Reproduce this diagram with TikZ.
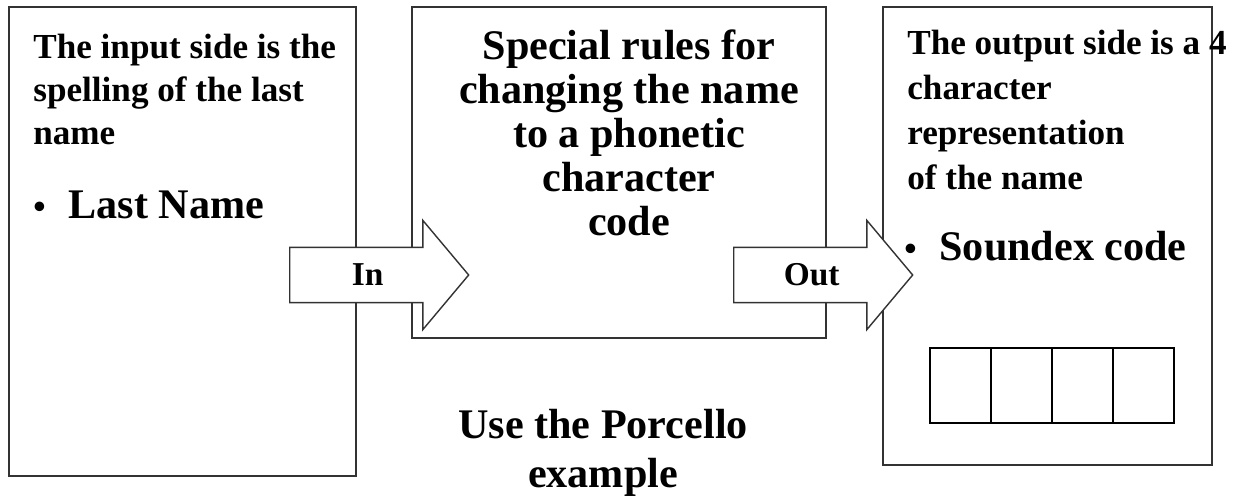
\documentclass[tikz,border=0pt]{standalone}
\usepackage{fontspec}
\setmainfont{Liberation Serif}
\usetikzlibrary{shapes.arrows}

\tikzset{
  panel/.style={draw=black!80, line width=0.8pt, inner sep=0pt},
  flow/.style={single arrow, draw=black!80, fill=white, line width=0.8pt,
    minimum height=3.58cm, single arrow head extend=0.54cm,
    single arrow tip angle=100, text height=14pt, text depth=2pt,
    inner ysep=7.3pt, inner xsep=0pt, font=\fontsize{19}{22}\bfseries},
  cell/.style={draw, line width=1.2pt, minimum width=1.22cm,
    minimum height=1.5cm, inner sep=0pt},
  small/.style={font=\fontsize{20}{24.4}\bfseries, inner sep=0pt},
  big/.style={font=\fontsize{24}{25}\bfseries, inner sep=0pt}
}

\begin{document}
\begin{tikzpicture}[x=0.02cm,y=-0.02cm]
    \useasboundingbox (0,0) rectangle (1251,497);
    % the three panels
    \node[panel, minimum width=6.94cm, minimum height=9.38cm] (input) at (182.5,241.5) {};
    \node[panel, minimum width=8.28cm, minimum height=6.62cm] (rules) at (619,172.5) {};
    \node[panel, minimum width=6.58cm, minimum height=9.16cm] (output) at (1047.5,236) {};
    % panel texts (base = last line)
    \node[small, anchor=base west, align=left] (intext) at (33,144)
        {The input side is the\\spelling of the last\\name};
    \node[big, anchor=base west] (inname) at (33,218)
        {{\fontsize{20}{20}\selectfont•}\hspace{13pt}Last Name};
    \node[big, anchor=base, align=center] (rulestext) at (629,235)
        {Special rules for\\changing the name\\to a phonetic\\character\\code};
    \node[small, font=\fontsize{20}{25.5}\bfseries, anchor=base west, align=left] (outtext) at (907,189)
        {The output side is a 4\\character\\representation\\of the name};
    \node[big, anchor=base west] (outname) at (904,260)
        {{\fontsize{20}{20}\selectfont•}\hspace{13pt}Soundex code};
    % block arrows
    \node[flow, anchor=tail] (inarrow) at (289,275) {In};
    \node[flow, anchor=tail] (outarrow) at (733,275) {Out};
    % four character cells
    \foreach \i in {0,...,3}
        \node[cell] (c\i) at (960.5+61*\i,385.5) {};
    \node[big, font=\fontsize{24}{27.8}\bfseries, anchor=base, align=center] (porcello) at (603,487)
        {Use the Porcello\\example};
\end{tikzpicture}
\end{document}
